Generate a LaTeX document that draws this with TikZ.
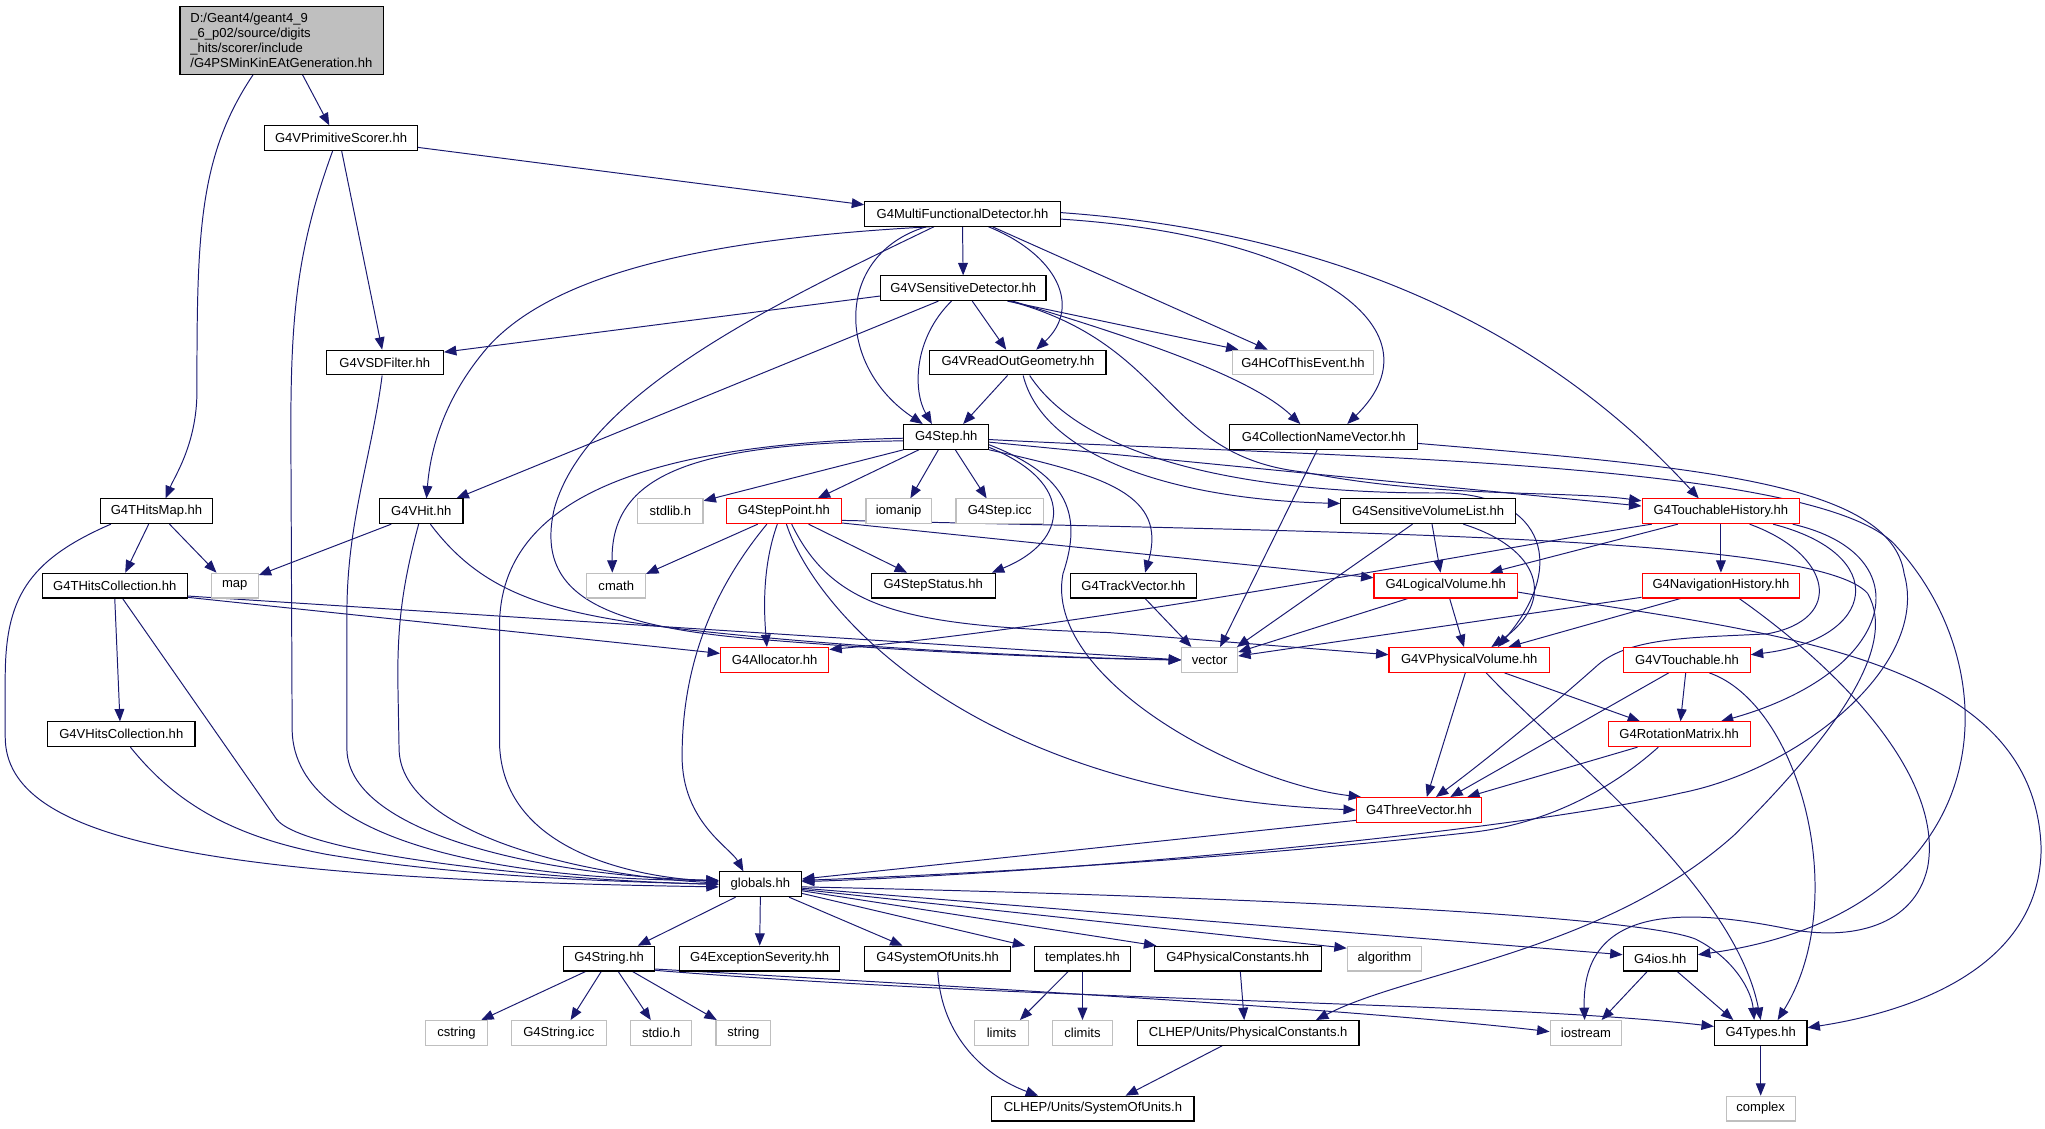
\documentclass[tikz,border=0pt]{standalone}
\usepackage{fontspec}
\setmainfont{Liberation Sans}
\usetikzlibrary{arrows.meta}
\definecolor{edgeblue}{HTML}{191970}
\definecolor{boxgray}{HTML}{BFBFBF}
\pgfdeclarelayer{bg}
\pgfsetlayers{bg,main}
\tikzset{
  box/.style={draw=black, fill=white, line width=0.8pt, minimum height=19pt, inner sep=0pt, font=\fontsize{10}{11.3}\selectfont},
  gbox/.style={box, draw=boxgray},
  rbox/.style={box, draw=red},
  edge/.style={draw=edgeblue, line width=0.75pt, -{Triangle[length=9.5pt,width=7.5pt]}},
}
\begin{document}
\begin{tikzpicture}[x=1pt,y=-1pt]
\useasboundingbox (0,0) rectangle (1568,865);
% nodes
\node[box, fill=boxgray, minimum width=156pt, minimum height=52pt, text width=140pt, inner xsep=8pt, align=left] (root) at (216,31) {D:/Geant4/geant4\_9\\\_6\_p02/source/digits\\\_hits/scorer/include\\/G4PSMinKinEAtGeneration.hh};
\node[box, minimum width=117pt] (vps) at (261.5,106) {G4VPrimitiveScorer.hh};
\node[box, minimum width=150pt] (mfd) at (738,164) {G4MultiFunctionalDetector.hh};
\node[box, minimum width=127pt] (vsd) at (738.5,221) {G4VSensitiveDetector.hh};
\node[box, minimum width=90pt] (vsdf) at (295,278) {G4VSDFilter.hh};
\node[box, minimum width=135pt] (vrog) at (780.5,278) {G4VReadOutGeometry.hh};
\node[gbox, minimum width=108pt] (hcof) at (999,278) {G4HCofThisEvent.hh};
\node[box, minimum width=144pt] (cnv) at (1015,335) {G4CollectionNameVector.hh};
\node[box, minimum width=65pt] (step) at (725.5,335) {G4Step.hh};
\node[box, minimum width=86pt] (thm) at (120,392) {G4THitsMap.hh};
\node[box, minimum width=64pt] (vhit) at (323,392) {G4VHit.hh};
\node[gbox, minimum width=50pt] (stdlib) at (514,392) {stdlib.h};
\node[rbox, minimum width=88pt] (sp) at (601,392) {G4StepPoint.hh};
\node[gbox, minimum width=50pt] (iomanip) at (689,392) {iomanip};
\node[gbox, minimum width=67pt] (stepicc) at (766.5,392) {G4Step.icc};
\node[box, minimum width=134pt] (svl) at (1095,392) {G4SensitiveVolumeList.hh};
\node[rbox, minimum width=121pt] (th) at (1319.5,392) {G4TouchableHistory.hh};
\node[box, minimum width=111pt] (thc) at (88,449) {G4THitsCollection.hh};
\node[gbox, minimum width=36pt] (map) at (180,449) {map};
\node[gbox, minimum width=45pt] (cmath) at (472.5,449) {cmath};
\node[box, minimum width=95pt] (sstat) at (715.5,449) {G4StepStatus.hh};
\node[box, minimum width=97pt] (tv) at (869,449) {G4TrackVector.hh};
\node[rbox, minimum width=110pt] (lv) at (1108.5,449) {G4LogicalVolume.hh};
\node[rbox, minimum width=121pt] (nh) at (1319.5,449) {G4NavigationHistory.hh};
\node[rbox, minimum width=83pt] (alloc) at (594,506) {G4Allocator.hh};
\node[gbox, minimum width=43pt] (vec) at (927.5,506) {vector};
\node[rbox, minimum width=123pt] (vpv) at (1126.5,506) {G4VPhysicalVolume.hh};
\node[rbox, minimum width=97pt] (vt) at (1293.5,506) {G4VTouchable.hh};
\node[box, minimum width=113pt] (vhc) at (93,563) {G4VHitsCollection.hh};
\node[rbox, minimum width=109pt] (rm) at (1287.5,563) {G4RotationMatrix.hh};
\node[rbox, minimum width=96pt] (tvec) at (1088,621) {G4ThreeVector.hh};
\node[box, minimum width=63pt] (glob) at (583,678) {globals.hh};
\node[box, minimum width=70pt] (g4s) at (467,735) {G4String.hh};
\node[box, minimum width=123pt] (exsev) at (582.5,735) {G4ExceptionSeverity.hh};
\node[box, minimum width=112pt] (sou) at (719,735) {G4SystemOfUnits.hh};
\node[box, minimum width=74pt] (templ) at (830,735) {templates.hh};
\node[box, minimum width=128pt] (pc) at (949,735) {G4PhysicalConstants.hh};
\node[gbox, minimum width=57pt] (algo) at (1061.5,735) {algorithm};
\node[box, minimum width=57pt] (ios) at (1273,735) {G4ios.hh};
\node[gbox, minimum width=47pt] (cstring) at (350,792) {cstring};
\node[gbox, minimum width=73pt] (gsicc) at (428.5,792) {G4String.icc};
\node[gbox, minimum width=47pt] (stdio) at (507,792) {stdio.h};
\node[gbox, minimum width=42pt] (string) at (570,792) {string};
\node[gbox, minimum width=41pt] (limits) at (768,792) {limits};
\node[gbox, minimum width=46pt] (climits) at (830,792) {climits};
\node[box, minimum width=170pt] (clpc) at (957,792) {CLHEP/Units/PhysicalConstants.h};
\node[gbox, minimum width=55pt] (iostream) at (1216,792) {iostream};
\node[box, minimum width=71pt] (types) at (1350,792) {G4Types.hh};
\node[box, minimum width=155pt] (clsou) at (838,850) {CLHEP/Units/SystemOfUnits.h};
\node[gbox, minimum width=53pt] (complex) at (1350,850) {complex};
% edges
\begin{pgfonlayer}{bg}
\draw[edge] ([xshift=16pt]root.south) -- ([xshift=-9pt]vps.north);
\draw[edge] ([xshift=-22pt]root.south) .. controls (152,120) and (151,180) .. (151,300) .. controls (151,340) and (134,365) .. ([xshift=7pt]thm.north);
\draw[edge] ([yshift=-7pt]vps.east) -- ([yshift=7pt]mfd.west);
\draw[edge] ([xshift=0.5pt]vps.south) -- ([xshift=-2pt]vsdf.north);
\draw[edge] ([xshift=-6.5pt]vps.south) .. controls (228,190) and (223,240) .. (223,330) -- (224,560) .. controls (226,650) and (400,675) .. ([yshift=3pt]glob.west);
\draw[edge] ([xshift=-2pt]vsdf.south) .. controls (285,350) and (266,400) .. (266,470) -- (266,575) .. controls (268,640) and (420,672) .. ([yshift=3pt]glob.west);
\draw[edge] ([yshift=-6pt]vsd.west) -- ([yshift=8pt]vsdf.east);
\draw[edge] ([xshift=-25pt]mfd.south) .. controls (560,182) and (430,205) .. (375,265) .. controls (340,305) and (330,345) .. ([xshift=4pt]vhit.north);
\draw[edge] ([xshift=-19pt]vsd.south) -- ([xshift=27pt]vhit.north);
\draw[edge] ([xshift=-22pt]mfd.south) .. controls (600,230) and (450,300) .. (425,390) .. controls (410,455) and (460,480) .. (580,490) .. controls (700,500) and (820,505) .. (vec.west);
\draw[edge] (mfd.south) -- (vsd.north);
\draw[edge] ([xshift=-28pt]mfd.south) .. controls (640,195) and (640,280) .. ([xshift=-18pt]step.north);
\draw[edge] ([xshift=-9pt]vsd.south) .. controls (700,260) and (700,300) .. ([xshift=-11pt]step.north);
\draw[edge] ([xshift=-8pt]vrog.south) -- ([xshift=13pt]step.north);
\draw[edge] ([xshift=7pt]vsd.south) -- ([xshift=-9pt]vrog.north);
\draw[edge] ([xshift=20pt]mfd.south) .. controls (810,195) and (830,235) .. ([xshift=14pt]vrog.north);
\draw[edge] ([xshift=23pt]mfd.south) -- ([xshift=-27pt]hcof.north);
\draw[edge] ([xshift=34pt]vsd.south) -- ([xshift=5pt]hcof.north west);
\draw[edge] ([xshift=38pt]vsd.south) .. controls (880,262) and (960,290) .. ([xshift=-18pt]cnv.north);
\draw[edge] ([yshift=-4pt]mfd.east) .. controls (1000,180) and (1110,250) .. ([xshift=18pt]cnv.north);
\draw[edge] ([yshift=1pt]mfd.east) .. controls (1050,180) and (1200,270) .. ([xshift=-17pt]th.north);
\draw[edge] ([xshift=36pt]vsd.south) .. controls (900,265) and (890,350) .. (1000,362) .. controls (1100,382) and (1200,376) .. ([yshift=8pt]th.west);
\draw[edge] ([xshift=4pt]vrog.south) .. controls (800,350) and (900,383) .. ([yshift=6pt]svl.west);
\draw[edge] ([xshift=9pt]vrog.south) .. controls (830,350) and (950,378) .. (1100,378) .. controls (1180,376) and (1205,430) .. ([xshift=22pt]vpv.north);
\draw[edge] (step.south west) -- ([yshift=8pt]stdlib.east);
\draw[edge] ([xshift=-21pt]step.south) -- ([xshift=26pt]sp.north);
\draw[edge] ([xshift=-6pt]step.south) -- ([xshift=9pt]iomanip.north);
\draw[edge] ([xshift=7pt]step.south) -- ([xshift=-10pt]stepicc.north);
\draw[edge] ([yshift=-8pt]step.east) .. controls (825,370) and (820,415) .. ([xshift=45pt]sstat.north);
\draw[edge] ([yshift=-6pt]step.east) .. controls (820,365) and (830,395) .. (815,440) .. controls (800,520) and (950,600) .. ([xshift=4pt]tvec.north west);
\draw[edge] (step.south east) .. controls (850,365) and (895,380) .. ([xshift=9pt]tv.north);
\draw[edge] ([yshift=-3pt]step.west) .. controls (540,340) and (468,360) .. ([xshift=-3pt]cmath.north);
\draw[edge] ([yshift=-1pt]step.west) .. controls (500,340) and (383,380) .. (383,480) -- (383,570) .. controls (385,650) and (480,672) .. ([yshift=2pt]glob.west);
\draw[edge] ([yshift=-4pt]step.east) -- ([yshift=4pt]th.west);
\draw[edge] ([yshift=-2pt]step.east) .. controls (1000,350) and (1400,352) .. (1455,420) .. controls (1545,520) and (1530,700) .. ([yshift=3pt]ios.east);
\draw[edge] ([xshift=-20pt]sp.south) -- ([yshift=9pt]cmath.east);
\draw[edge] ([xshift=-13pt]sp.south) .. controls (540,460) and (523,520) .. (523,580) .. controls (523,630) and (560,650) .. ([xshift=-13pt]glob.north);
\draw[edge] ([xshift=-5pt]sp.south) .. controls (586,430) and (585,460) .. ([xshift=-6pt]alloc.north);
\draw[edge] ([xshift=2pt]sp.south) .. controls (625,470) and (750,610) .. (tvec.west);
\draw[edge] ([xshift=6pt]sp.south) .. controls (640,470) and (700,480) .. (850,485) -- ([yshift=4pt]vpv.west);
\draw[edge] ([xshift=19pt]sp.south) -- ([xshift=-20pt]sstat.north);
\draw[edge] ([yshift=-9pt]sp.east) -- ([yshift=6pt]lv.west);
\draw[edge] ([yshift=-7pt]sp.east) .. controls (1050,408) and (1395,412) .. (1432,455) .. controls (1455,495) and (1410,560) .. (1330,640) .. controls (1230,730) and (1080,745) .. ([xshift=52pt]clpc.north);
\draw[edge] ([xshift=10pt]thm.south) -- ([xshift=-14pt]map.north);
\draw[edge] ([xshift=-6pt]thm.south) -- ([xshift=8pt]thc.north);
\draw[edge] ([xshift=-35pt]thm.south) .. controls (20,430) and (4,460) .. (4,520) -- (4,565) .. controls (4,645) and (160,674) .. ([yshift=-2pt]glob.west);
\draw[edge] ([xshift=-23pt]vhit.south) -- ([yshift=8pt]map.east);
\draw[edge] ([xshift=-2pt]vhit.south) .. controls (308,450) and (305,480) .. (305,520) -- (306,575) .. controls (308,640) and (450,672) .. ([yshift=1pt]glob.west);
\draw[edge] ([xshift=7pt]vhit.south) .. controls (370,455) and (420,470) .. (520,482) .. controls (650,497) and (800,504) .. (vec.west);
\draw[edge] (thc.south) -- ([xshift=-1pt]vhc.north);
\draw[edge] ([xshift=6pt]thc.south) -- (212,628) .. controls (232,655) and (420,675) .. (glob.west);
\draw[edge] ([yshift=-8pt]thc.east) -- (vec.west);
\draw[edge] ([yshift=-9pt]thc.east) -- ([yshift=5pt]alloc.west);
\draw[edge] ([xshift=7pt]vhc.south) .. controls (130,610) and (170,640) .. (250,655) .. controls (350,672) and (470,676) .. (glob.west);
\draw[edge] ([xshift=9pt]tv.south) -- ([xshift=-14pt]vec.north);
\draw[edge] ([xshift=-5pt]cnv.south) -- ([xshift=8pt]vec.north);
\draw[edge] ([xshift=-12pt]svl.south) -- ([xshift=-1pt]vec.north east);
\draw[edge] ([xshift=-29pt]lv.south) -- ([yshift=6pt]vec.east);
\draw[edge] ([yshift=-9pt]nh.west) -- ([yshift=3pt]vec.east);
\draw[edge] ([xshift=3pt]svl.south) -- ([xshift=-4pt]lv.north);
\draw[edge] ([xshift=27pt]svl.south) .. controls (1180,420) and (1195,460) .. ([xshift=17pt]vpv.north);
\draw[edge] ([xshift=3pt]lv.south) -- ([xshift=-4pt]vpv.north);
\draw[edge] ([yshift=-5pt]lv.east) .. controls (1350,485) and (1560,500) .. (1565,650) .. controls (1565,740) and (1470,775) .. ([yshift=4pt]types.east);
\draw[edge] ([xshift=-33pt]th.south) -- ([xshift=34pt]lv.north);
\draw[edge] (th.south) -- (nh.north);
\draw[edge] ([xshift=-53pt]th.south) .. controls (1150,420) and (850,478) .. ([yshift=8pt]alloc.east);
\draw[edge] ([xshift=22pt]th.south) .. controls (1405,425) and (1415,475) .. (1355,486) .. controls (1300,489) and (1250,488) .. (1225,510) .. controls (1180,550) and (1130,590) .. ([xshift=13pt]tvec.north);
\draw[edge] ([xshift=40pt]th.south) .. controls (1450,425) and (1440,490) .. ([yshift=4pt]vt.east);
\draw[edge] ([xshift=55pt]th.south) .. controls (1475,425) and (1455,515) .. ([xshift=32pt]rm.north);
\draw[edge] ([xshift=-31pt]nh.south) -- ([xshift=30pt]vpv.north);
\draw[edge] ([xshift=14pt]nh.south) .. controls (1420,520) and (1490,600) .. (1478,665) .. controls (1468,710) and (1420,722) .. (1370,712) .. controls (1300,698) and (1212,690) .. ([xshift=-1pt]iostream.north);
\draw[edge] ([xshift=27pt]vpv.south) -- ([xshift=-30pt]rm.north);
\draw[edge] ([xshift=-3pt]vpv.south) -- ([xshift=6pt]tvec.north);
\draw[edge] ([xshift=13pt]vpv.south) .. controls (1200,580) and (1330,680) .. (types.north);
\draw[edge] ([xshift=-1pt]vt.south) -- ([xshift=1pt]rm.north);
\draw[edge] ([xshift=-14pt]vt.south) -- ([xshift=24pt]tvec.north);
\draw[edge] ([xshift=17pt]vt.south) .. controls (1380,540) and (1420,690) .. ([xshift=13pt]types.north);
\draw[edge] ([xshift=-32pt]rm.south) -- ([xshift=37pt]tvec.north);
\draw[edge] ([xshift=-16pt]rm.south) .. controls (1230,610) and (1180,632) .. (1130,638) .. controls (950,658) and (750,670) .. ([yshift=3pt]glob.east);
\draw[edge] ([yshift=-8pt]tvec.west) -- ([yshift=4pt]glob.east);
\draw[edge] ([yshift=-5pt]cnv.east) .. controls (1300,358) and (1450,370) .. (1460,440) .. controls (1480,510) and (1380,590) .. (1289,608) .. controls (1150,640) and (800,670) .. ([yshift=2pt]glob.east);
\draw[edge] ([xshift=-19pt]glob.south) -- ([xshift=22pt]g4s.north);
\draw[edge] (glob.south) -- (exsev.north);
\draw[edge] ([xshift=22pt]glob.south) -- ([xshift=-27pt]sou.north);
\draw[edge] ([yshift=-7pt]glob.east) -- ([xshift=-44pt]templ.north);
\draw[edge] ([yshift=-5pt]glob.east) -- ([xshift=2pt]pc.north west);
\draw[edge] ([yshift=-4pt]glob.east) -- ([yshift=8pt]algo.west);
\draw[edge] ([yshift=-3pt]glob.east) -- ([yshift=3pt]ios.west);
\draw[edge] ([yshift=-2pt]glob.east) .. controls (900,686) and (1250,700) .. (1300,720) .. controls (1330,735) and (1343,760) .. ([xshift=-5pt]types.north);
\draw[edge] ([xshift=-18pt]g4s.south) -- ([xshift=19pt]cstring.north);
\draw[edge] ([xshift=-6pt]g4s.south) -- ([xshift=9pt]gsicc.north);
\draw[edge] ([xshift=7pt]g4s.south) -- ([xshift=-8pt]stdio.north);
\draw[edge] ([xshift=18pt]g4s.south) -- ([xshift=1pt]string.north west);
\draw[edge] ([yshift=-8pt]g4s.east) .. controls (800,760) and (1050,775) .. ([yshift=1pt]iostream.west);
\draw[edge] ([yshift=-9pt]g4s.east) .. controls (800,768) and (1150,768) .. ([yshift=5pt]types.west);
\draw[edge] (sou.south) .. controls (722,795) and (755,825) .. ([xshift=-42pt]clsou.north);
\draw[edge] ([xshift=-11pt]templ.south) -- ([xshift=14pt]limits.north);
\draw[edge] (templ.south) -- (climits.north);
\draw[edge] ([xshift=2pt]pc.south) -- ([xshift=-3pt]clpc.north);
\draw[edge] ([xshift=-20pt]clpc.south) -- ([xshift=25pt]clsou.north);
\draw[edge] ([xshift=-10pt]ios.south) -- ([xshift=12pt]iostream.north);
\draw[edge] ([xshift=13pt]ios.south) -- ([xshift=-21pt]types.north);
\draw[edge] (types.south) -- (complex.north);
\end{pgfonlayer}
\end{tikzpicture}
\end{document}
